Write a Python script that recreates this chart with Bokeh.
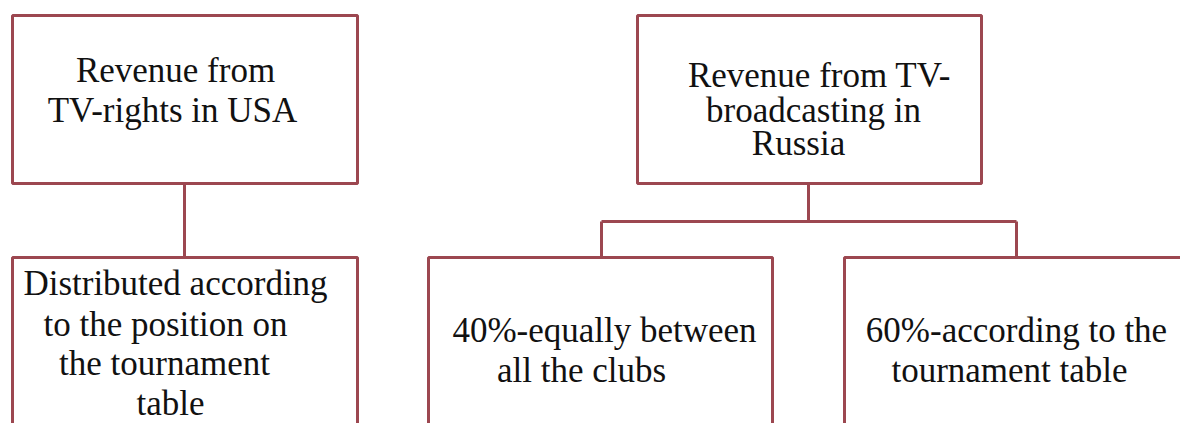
from bokeh.plotting import figure
from bokeh.models import Range1d, ColumnDataSource
from bokeh.core.properties import value
from bokeh.embed import file_html
from bokeh.resources import INLINE

# Diagram content
box_names = ["usa", "usa_dist", "russia", "russia_equal", "russia_table"]
box_lines = [
    ["Revenue from", "TV-rights in USA"],
    ["Distributed according", "to the position on", "the tournament", "table"],
    ["Revenue from TV-", "broadcasting in", "Russia"],
    ["40%-equally between", "all the clubs"],
    ["60%-according to the", "tournament table"],
]

# layout (pixel space of the picture)
box_left = [12, 12, 637, 428, 844]
box_right = [357, 357, 981, 772, 1200]
box_top = [15, 257, 15, 257, 257]
box_bottom = [183, 440, 183, 440, 440]
line_x = [
    [175, 172],
    [175, 165, 164, 170],
    [819, 813, 798],
    [604, 581],
    [1016, 1009],
]
line_y = [
    [70, 110],
    [283, 324, 363, 403],
    [75, 110, 143],
    [330, 370],
    [330, 370],
]

EDGE = "#9c4750"

p = figure(width=1180, height=423, output_backend="svg", toolbar_location=None,
           x_range=Range1d(0, 1180), y_range=Range1d(423, 0),
           min_border=0)
p.axis.visible = False
p.grid.visible = False
p.outline_line_color = None
p.background_fill_color = "white"
p.border_fill_color = "white"

# connectors
p.multi_line(xs=[[184, 184], [808, 808], [601, 1016], [601, 601], [1016, 1016]],
             ys=[[183, 257], [183, 221], [221, 221], [221, 257], [221, 257]],
             line_color=EDGE, line_width=3)

p.quad(left=box_left, right=box_right, top=box_top, bottom=box_bottom,
       fill_color="white", line_color=EDGE, line_width=3)

tx, ty, tt = [], [], []
for lines, xs, ys in zip(box_lines, line_x, line_y):
    for t, x, y in zip(lines, xs, ys):
        tx.append(x); ty.append(y); tt.append(t)
src = ColumnDataSource(dict(x=tx, y=ty, text=tt))
p.text(x="x", y="y", text="text", source=src, text_align="center",
       text_baseline="middle", text_font=value("Liberation Serif"),
       text_font_size="35px", text_color="#111111")

open("out.html", "w").write(file_html(p, INLINE))
